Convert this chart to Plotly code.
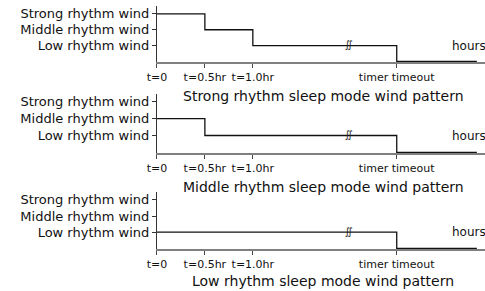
import plotly.graph_objects as go

# ---- data ----
level_values = [1, 2, 3]
level_labels = ["Low rhythm wind", "Middle rhythm wind", "Strong rhythm wind"]

tick_positions = [0, 1, 2, 5]
tick_labels = ["t=0", "t=0.5hr", "t=1.0hr", "timer timeout"]

time_points = [0, 1, 2, 5, 6.67]
strong_pattern = [3, 2, 1, 0, 0]
middle_pattern = [2, 1, 1, 0, 0]
low_pattern = [1, 1, 1, 0, 0]

titles = ["Strong rhythm sleep mode wind pattern",
          "Middle rhythm sleep mode wind pattern",
          "Low rhythm sleep mode wind pattern"]
break_x = 4.0
x_end = 6.84

W, H = 485, 291
FONT = "DejaVu Sans"

def py(px):
    return 1 - px / H

# pixel geometry of the three panels (bottom, top)
panels = [(62, 6), (153, 93.5), (249, 191.8)]
title_y = [96, 187, 281]

fig = go.Figure()
patterns = [strong_pattern, middle_pattern, low_pattern]

def step_value(xs, ys, x):
    v = ys[0]
    for xi, yi in zip(xs, ys):
        if xi <= x:
            v = yi
    return v

for i, pat in enumerate(patterns):
    sfx = "" if i == 0 else str(i + 1)
    fig.add_trace(go.Scatter(
        x=time_points, y=pat, mode="lines", line_shape="hv",
        line=dict(color="#111111", width=1.3),
        xaxis="x" + sfx, yaxis="y" + sfx, showlegend=False, hoverinfo="skip"))
    fig.add_trace(go.Scatter(
        x=[break_x], y=[step_value(time_points, pat, break_x)],
        mode="text", text=["∬"], textposition="middle center",
        textfont=dict(family=FONT, size=10, color="#222222"),
        xaxis="x" + sfx, yaxis="y" + sfx, showlegend=False, hoverinfo="skip"))
    b, t = panels[i]
    xa = dict(domain=[150 / W, 1], range=[0, x_end], showline=True,
              linecolor="#808080", linewidth=1.5, ticks="outside", ticklen=4,
              tickcolor="#444444", tickvals=tick_positions, ticktext=tick_labels,
              tickfont=dict(family=FONT, size=11, color="#111111"),
              showgrid=False, zeroline=False, anchor="y" + sfx, fixedrange=True)
    ya = dict(domain=[py(b), py(t)], range=[-0.04, 3.5], showline=True,
              linecolor="#333333", linewidth=1, ticks="outside", ticklen=4,
              tickcolor="#333333", tickvals=level_values, ticktext=level_labels,
              tickfont=dict(family=FONT, size=13, color="#111111"),
              showgrid=False, zeroline=False, anchor="x" + sfx, fixedrange=True)
    fig.update_layout(**{"xaxis" + sfx: xa, "yaxis" + sfx: ya})
    fig.add_annotation(x=6.12, y=1, xref="x" + sfx, yref="y" + sfx,
                       text="hours", showarrow=False, xanchor="left", yanchor="middle",
                       font=dict(family=FONT, size=12, color="#111111"))
    fig.add_annotation(x=320 / W, y=py(title_y[i]), xref="paper", yref="paper",
                       text=titles[i], showarrow=False, xanchor="center", yanchor="middle",
                       font=dict(family=FONT, size=14, color="#111111"))

fig.update_layout(width=W, height=H, margin=dict(l=0, r=0, t=0, b=0),
                  paper_bgcolor="white", plot_bgcolor="white")

fig.write_html("out.html", config={"displayModeBar": False},
               post_script="document.body.style.margin='0';document.body.style.overflow='hidden';")
